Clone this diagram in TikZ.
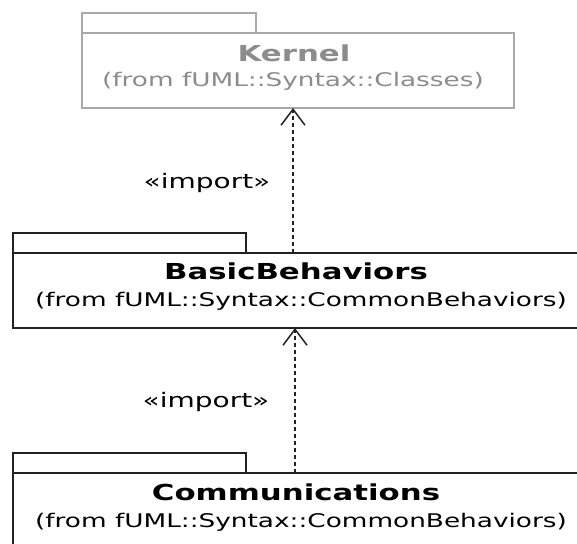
\documentclass[tikz,border=0pt]{standalone}
\usepackage{fontspec}
\setmainfont{DejaVu Sans}[FakeStretch=1.4]
\usetikzlibrary{arrows.meta}
\definecolor{greyline}{HTML}{A8A8A8}
\definecolor{greytext}{HTML}{8C8C8C}
\definecolor{darkline}{HTML}{222222}
\begin{document}
\begin{tikzpicture}[x=1pt,y=1pt,
  pkgbox/.style={draw=darkline,line width=1.7pt,fill=white,inner sep=0pt,outer sep=0pt},
  greypkg/.style={pkgbox,draw=greyline},
  titletext/.style={anchor=base,inner sep=0pt,font=\fontsize{22}{26}\selectfont\bfseries},
  subtext/.style={anchor=base,inner sep=0pt,font=\fontsize{18.8}{22}\selectfont},
  importdep/.style={draw=darkline,line width=1.6pt,dash pattern=on 4pt off 3pt,
     -{Straight Barb[length=16pt,width=24pt,line width=1.5pt]}},
  deplabel/.style={inner sep=0pt,font=\fontsize{20}{24}\selectfont}]
\useasboundingbox (0,0) rectangle (577,543);
\clip (0,0) rectangle (577,543);
% Kernel
\node[greypkg,minimum width=432pt,minimum height=75pt] (kernel) at (298,472.5) {};
\node[greypkg,minimum width=174pt,minimum height=20pt] (kerneltab) at (169,520) {};
\node[titletext,text=greytext] (kerneltitle) at (294,481) {Kernel};
\node[subtext,text=greytext] (kernelsub) at (293,456) {(from fUML::Syntax::Classes)};
% BasicBehaviors
\node[pkgbox,minimum width=577pt,minimum height=75pt] (bb) at (301.5,252.5) {};
\node[pkgbox,minimum width=233pt,minimum height=20pt] (bbtab) at (129.5,300) {};
\node[titletext] (bbtitle) at (296,263) {BasicBehaviors};
\node[subtext] (bbsub) at (301,236) {(from fUML::Syntax::CommonBehaviors)};
% Communications
\node[pkgbox,minimum width=577pt,minimum height=75pt] (comm) at (301.5,32.5) {};
\node[pkgbox,minimum width=233pt,minimum height=20pt] (commtab) at (129.5,80) {};
\node[titletext] (commtitle) at (296,43) {Communications};
\node[subtext] (commsub) at (301,16) {(from fUML::Syntax::CommonBehaviors)};
% dependencies
\coordinate (ax1) at (293,0);
\coordinate (ax2) at (295,0);
\draw[importdep] (bb.north -| ax1) -- (kernel.south -| ax1);
\draw[importdep] (comm.north -| ax2) -- (bb.south -| ax2);
\node[deplabel] (imp1) at (207,360) {«import»};
\node[deplabel] (imp2) at (206,141) {«import»};
\end{tikzpicture}
\end{document}
